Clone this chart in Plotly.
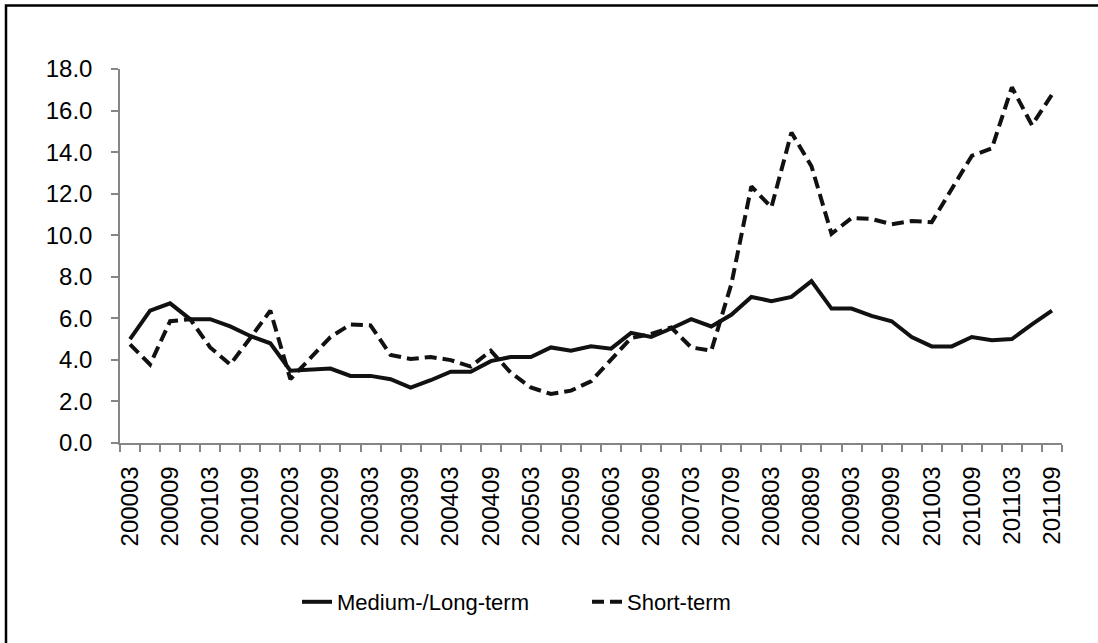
import plotly.graph_objects as go

periods = [
    "200003", "200006", "200009", "200012",
    "200103", "200106", "200109", "200112",
    "200203", "200206", "200209", "200212",
    "200303", "200306", "200309", "200312",
    "200403", "200406", "200409", "200412",
    "200503", "200506", "200509", "200512",
    "200603", "200606", "200609", "200612",
    "200703", "200706", "200709", "200712",
    "200803", "200806", "200809", "200812",
    "200903", "200906", "200909", "200912",
    "201003", "201006", "201009", "201012",
    "201103", "201106", "201109",
]

medium_long_term = [
    5.00, 6.37, 6.72, 5.96, 5.96, 5.61, 5.15, 4.80,
    3.48, 3.53, 3.58, 3.23, 3.23, 3.07, 2.67, 3.02,
    3.43, 3.43, 3.94, 4.14, 4.14, 4.60, 4.44, 4.65,
    4.54, 5.30, 5.10, 5.51, 5.96, 5.61, 6.17, 7.03,
    6.83, 7.03, 7.79, 6.47, 6.47, 6.12, 5.86, 5.10,
    4.65, 4.65, 5.10, 4.95, 5.00, 5.71, 6.37,
]

short_term = [
    4.75, 3.78, 5.86, 5.96, 4.60, 3.78, 5.05, 6.37,
    3.07, 4.09, 5.10, 5.71, 5.66, 4.24, 4.04, 4.14,
    3.99, 3.68, 4.44, 3.38, 2.67, 2.36, 2.52, 2.97,
    4.04, 5.05, 5.25, 5.56, 4.60, 4.44, 7.64, 12.35,
    11.34, 14.94, 13.32, 10.07, 10.83, 10.78, 10.53, 10.68,
    10.63, 12.20, 13.82, 14.18, 17.12, 15.30, 16.77,
]

label_periods = periods[::2]

x_idx = list(range(len(periods)))
label_idx = [periods.index(p) for p in label_periods]

FONT = "Liberation Sans, Arial, sans-serif"
AXIS_GRAY = "#868686"

W, H = 1098, 643
ML, MR, MT, MB = 120, 36, 69, 200
PW, PH = W - ML - MR, H - MT - MB


def px_x(p):
    return (p - ML) / PW


def px_y(p):
    return (H - MB - p) / PH


fig = go.Figure()
fig.add_trace(go.Scatter(
    x=x_idx, y=medium_long_term, mode="lines", name="Medium-/Long-term",
    line=dict(color="#111111", width=4),
    customdata=periods,
    hovertemplate="%{customdata}: %{y:.1f}<extra>Medium-/Long-term</extra>",
))
fig.add_trace(go.Scatter(
    x=x_idx, y=short_term, mode="lines", name="Short-term",
    line=dict(color="#111111", width=4, dash="12px,6px"),
    customdata=periods,
    hovertemplate="%{customdata}: %{y:.1f}<extra>Short-term</extra>",
))

fig.update_layout(
    width=W, height=H, autosize=False,
    margin=dict(l=ML, r=MR, t=MT, b=MB, pad=0),
    paper_bgcolor="white", plot_bgcolor="white",
    font=dict(family=FONT, size=22, color="black"),
    showlegend=True,
    legend=dict(
        orientation="h", x=px_x(297), xanchor="left",
        y=px_y(602), yanchor="middle",
        font=dict(family=FONT, size=22, color="black"),
        entrywidth=245, entrywidthmode="pixels",
        bgcolor="rgba(0,0,0,0)", borderwidth=0,
    ),
    xaxis=dict(
        range=[-0.5, len(periods) - 0.5],
        tickmode="array", tickvals=label_idx, ticktext=label_periods,
        tickangle=-90, ticks="", showgrid=False, zeroline=False,
        showline=True, linecolor=AXIS_GRAY, linewidth=1.5,
        tickfont=dict(family=FONT, size=24, color="black"),
        ticklabelstandoff=12,
        minor=dict(ticks="outside", tickmode="linear", tick0=-0.5, dtick=1,
                   ticklen=7, tickcolor=AXIS_GRAY, tickwidth=1.5, showgrid=False),
    ),
    yaxis=dict(
        range=[0, 18], tickmode="linear", tick0=0, dtick=2, tickformat=".1f",
        ticks="outside", ticklen=7, tickcolor=AXIS_GRAY, tickwidth=1.5,
        showgrid=False, zeroline=False,
        showline=True, linecolor=AXIS_GRAY, linewidth=1.5,
        tickfont=dict(family=FONT, size=24, color="black"),
        ticklabelstandoff=14,
    ),
    shapes=[dict(
        type="rect", xref="paper", yref="paper",
        x0=px_x(6), x1=px_x(W + 10), y0=px_y(5.5), y1=px_y(H + 10),
        line=dict(color="black", width=2.5), fillcolor="rgba(0,0,0,0)",
        layer="below",
    )],
)

fig.write_html(
    "out.html",
    config={"displayModeBar": False},
    post_script="document.body.style.margin='0';document.body.style.overflow='hidden';",
)
